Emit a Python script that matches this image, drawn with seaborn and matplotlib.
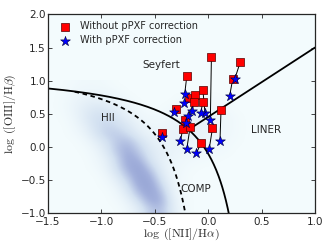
import numpy as np
import pandas as pd
import matplotlib
matplotlib.use("Agg")
import matplotlib.pyplot as plt
from matplotlib.colors import LinearSegmentedColormap
import seaborn as sns

# --- data ---
sq_x = [0.03, 0.30, 0.23, -0.20, -0.18, -0.12, -0.05, -0.05, -0.13, -0.30, -0.22, -0.24, -0.17, 0.04, -0.07, 0.12, -0.43]
sq_y = [1.35, 1.28, 1.03, 1.07, 0.73, 0.78, 0.86, 0.68, 0.68, 0.57, 0.40, 0.26, 0.29, 0.28, 0.05, 0.55, 0.20]
st_x = [0.02, 0.25, 0.20, -0.22, -0.23, -0.15, -0.03, -0.07, -0.19, -0.32, -0.21, -0.26, -0.20, 0.01, -0.11, 0.11, -0.43]
st_y = [0.40, 1.03, 0.76, 0.80, 0.66, 0.54, 0.51, 0.51, 0.46, 0.52, 0.36, 0.08, -0.03, -0.03, -0.10, 0.08, 0.14]

# background galaxy density (rows from y=-0.94 up to y=0.94, cols x=-1.45..0.45)
dens_y = [-0.9375, -0.8125, -0.6875, -0.5625, -0.4375, -0.3125, -0.1875, -0.0625,
          0.0625, 0.1875, 0.3125, 0.4375, 0.5625, 0.6875, 0.8125, 0.9375]
dens_x = [-1.45, -1.35, -1.25, -1.15, -1.05, -0.95, -0.85, -0.75, -0.65, -0.55,
          -0.45, -0.35, -0.25, -0.15, -0.05, 0.05, 0.15, 0.25, 0.35, 0.45]
density = [
    [0, 0, 0, 0, 0, 0, 0, 0.5, 1.5, 4, 5, 2, 0.4, 0, 0, 0, 0, 0, 0, 0],
    [0, 0, 0, 0, 0, 0, 0.2, 1, 3, 6, 6, 1.8, 0.3, 0, 0, 0, 0, 0, 0, 0],
    [0, 0, 0, 0, 0, 0, 0.5, 2, 5, 7, 5, 1.2, 0.2, 0, 0, 0, 0, 0, 0, 0],
    [0, 0, 0, 0, 0, 0.2, 1, 3, 6.5, 7, 3.5, 0.8, 0.2, 0, 0, 0, 0, 0, 0, 0],
    [0, 0, 0, 0, 0, 0.5, 2, 4.5, 7, 6, 2.2, 0.6, 0.2, 0, 0, 0, 0, 0, 0, 0],
    [0, 0, 0, 0, 0.2, 1, 3, 6, 7, 4, 1.5, 0.6, 0.3, 0.1, 0, 0, 0, 0, 0, 0],
    [0, 0, 0, 0, 0.4, 1.2, 3.5, 6.5, 5.5, 2.5, 1.2, 0.7, 0.4, 0.3, 0.2, 0.1, 0, 0, 0, 0],
    [0, 0, 0, 0.1, 0.6, 2, 4.5, 6, 4, 2, 1.2, 0.9, 0.6, 0.5, 0.4, 0.3, 0.2, 0, 0, 0],
    [0, 0, 0, 0.3, 1.2, 2.5, 4.5, 5, 3, 1.5, 0.9, 0.8, 0.8, 0.7, 0.6, 0.4, 0.3, 0.1, 0, 0],
    [0, 0, 0.2, 0.8, 2.3, 3.8, 4, 3, 1.5, 0.8, 0.7, 0.8, 1, 1, 0.8, 0.6, 0.4, 0.2, 0, 0],
    [0, 0, 0.4, 1.3, 2.8, 3.5, 3, 2, 1, 0.5, 0.5, 0.7, 1, 1, 1, 0.8, 0.5, 0.2, 0, 0],
    [0, 0.1, 0.6, 1.8, 2.8, 3, 2.2, 1.2, 0.5, 0.3, 0.3, 0.5, 0.8, 1, 1, 0.7, 0.5, 0.2, 0, 0],
    [0, 0.2, 0.8, 1.6, 2.2, 2, 1.3, 0.7, 0.3, 0, 0, 0.3, 0.5, 0.7, 0.7, 0.5, 0.3, 0, 0, 0],
    [0, 0.2, 0.7, 1.1, 1.3, 1.1, 0.6, 0.3, 0, 0, 0, 0, 0.3, 0.3, 0.3, 0.3, 0, 0, 0, 0],
    [0, 0.1, 0.4, 0.6, 0.6, 0.5, 0.3, 0, 0, 0, 0, 0, 0, 0, 0, 0, 0, 0, 0, 0],
    [0, 0, 0.2, 0.3, 0.3, 0.2, 0, 0, 0, 0, 0, 0, 0, 0, 0, 0, 0, 0, 0, 0],
]

label_sq = "Without pPXF correction"
label_st = "With pPXF correction"

sns.set_style("ticks")
plt.rcParams["font.family"] = ["DejaVu Sans"]
plt.rcParams["mathtext.fontset"] = "cm"

fig = plt.figure(figsize=(3.32, 2.49), dpi=100)
ax = fig.add_axes([0.1446, 0.1458, 0.8042, 0.796])

bg = "#f3fbfd"
ax.set_facecolor(bg)
cmap = LinearSegmentedColormap.from_list("dens", [bg, "#d3e1f1", "#a3b1dc", "#8796cc"])
dx = 0.05
dy = 0.0625
ax.imshow(np.array(density), origin="lower", cmap=cmap, vmin=0, vmax=8.5,
          extent=[dens_x[0] - dx, dens_x[-1] + dx, dens_y[0] - dy, dens_y[-1] + dy],
          interpolation="bicubic", aspect="auto", zorder=0)

# demarcation lines
xk = np.linspace(-1.5, 0.2, 300)
ax.plot(xk, 0.61 / (xk - 0.47) + 1.19, color="black", lw=1.3, zorder=2)
xka = np.linspace(-1.25, -0.2, 300)
ax.plot(xka, 0.61 / (xka - 0.05) + 1.3, color="black", lw=1.3, ls=(0, (2.5, 2)), zorder=2)
xs = np.linspace(-0.183, 1.0, 50)
ax.plot(xs, 1.05 * xs + 0.45, color="black", lw=1.3, zorder=2)

# connectors
for a, b, c, d in zip(sq_x, sq_y, st_x, st_y):
    ax.plot([a, c], [b, d], color="black", lw=0.7, zorder=3)

df_sq = pd.DataFrame({"x": sq_x, "y": sq_y})
df_st = pd.DataFrame({"x": st_x, "y": st_y})
sns.scatterplot(data=df_sq, x="x", y="y", marker="s", s=38, color="#ff0000",
                edgecolor="#550000", linewidth=0.5, ax=ax, zorder=4, label=label_sq)
sns.scatterplot(data=df_st, x="x", y="y", marker="*", s=55, color="#0000ff",
                edgecolor="#000033", linewidth=0.4, ax=ax, zorder=5, label=label_st)

ax.text(-0.44, 1.24, "Seyfert", fontsize=7.5, ha="center", va="center")
ax.text(-0.94, 0.43, "HII", fontsize=7.5, ha="center", va="center")
ax.text(0.54, 0.25, "LINER", fontsize=7.5, ha="center", va="center")
ax.text(-0.12, -0.64, "COMP", fontsize=7.5, ha="center", va="center")

ax.set_xlim(-1.5, 1.0)
ax.set_ylim(-1.0, 2.0)
ax.set_xticks([-1.5, -1.0, -0.5, 0.0, 0.5, 1.0])
ax.set_yticks([-1.0, -0.5, 0.0, 0.5, 1.0, 1.5, 2.0])
ax.tick_params(direction="in", top=True, right=True, labelsize=7.5, length=3, width=0.6)
ax.tick_params(axis="x", pad=3)
ax.tick_params(axis="y", pad=1.5)
for sp in ax.spines.values():
    sp.set_linewidth(0.9)
    sp.set_visible(True)

ax.set_xlabel(r"$\log\ ([\mathrm{NII}]/\mathrm{H}\alpha)$", fontsize=8.5, labelpad=0)
ax.set_ylabel(r"$\log\ ([\mathrm{OIII}]/\mathrm{H}\beta)$", fontsize=8.5, labelpad=2)

leg = ax.legend(loc="upper left", frameon=False, fontsize=7, handletextpad=0.6,
                borderaxespad=0.3, labelspacing=0.4, markerscale=1.0)

fig.savefig("out.png", dpi=100)
